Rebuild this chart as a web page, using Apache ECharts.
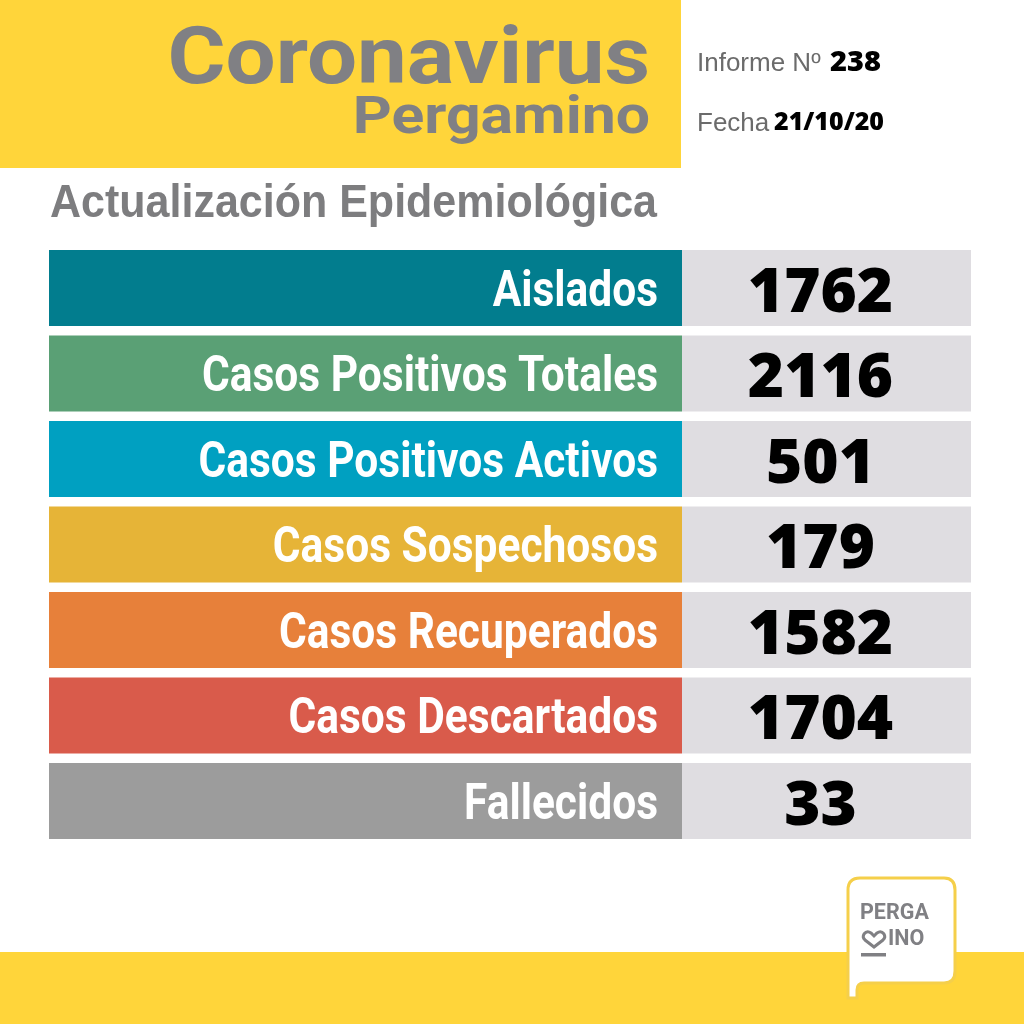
<!DOCTYPE html>
<html>
	<head>
		<meta charset="utf-8" />
		<title>Coronavirus Pergamino</title>
		<script src="https://cdn.jsdelivr.net/npm/echarts@6/dist/echarts.min.js" type="text/javascript" charset="utf-8"></script>
	</head>
	<body style="margin:0;background:#fff;">
		<div id="main" style="width:1024px;height:1024px;"></div>
		<script type="text/javascript">
			var categories = ["Aislados","Casos Positivos Totales","Casos Positivos Activos","Casos Sospechosos","Casos Recuperados","Casos Descartados","Fallecidos"];
			var values = [1762,2116,501,179,1582,1704,33];
			var rowColors = ["#027d8e","#5aa075","#00a0c1","#e6b437","#e7803a","#d95b4b","#9c9c9c"];
			var title = "Coronavirus";
			var subtitle = "Pergamino";
			var heading = "Actualización Epidemiológica";
			var reportNo = "238";
			var reportDate = "21/10/20";

			var YELLOW = "#ffd53a";
			var GREY = "#808084";

			// every row is a full width band, the number is only printed
			var fullRow = categories.map(function(){ return 1; });

			function headText(x, y, text, font, fill, align, scaleX){
				return {
					type: "text", x: x, y: y, scaleX: scaleX || 1,
					style: {text: text, font: font, fill: fill, align: align || "left", verticalAlign: "middle"}
				};
			}

			function logoText(x, y, text){
				return {
					type: "text", x: x, y: y,
					style: {text: text, font: "700 21.5px Roboto", fill: GREY, align: "left", verticalAlign: "middle"}
				};
			}

			var chart = echarts.init(document.getElementById("main"));
			chart.setOption({
				animation: false,
				backgroundColor: "#fff",
				grid: [
					{left: 49, top: 245.25, width: 633, height: 598.5},
					{left: 682, top: 245.25, width: 289, height: 598.5}
				],
				xAxis: [
					{gridIndex: 0, type: "value", min: 0, max: 1, show: false},
					{gridIndex: 1, type: "value", min: 0, max: 1, show: false}
				],
				yAxis: [
					{gridIndex: 0, type: "category", inverse: true, data: categories, show: false},
					{gridIndex: 1, type: "category", inverse: true, data: categories, show: false}
				],
				series: [
					{
						type: "bar", xAxisIndex: 0, yAxisIndex: 0, barWidth: 76, silent: true,
						data: fullRow.map(function(v, i){
							return {value: v, itemStyle: {color: rowColors[i]}};
						})
					},
					{
						type: "bar", xAxisIndex: 1, yAxisIndex: 1, barWidth: 76, silent: true,
						itemStyle: {color: "#dfdde1"},
						label: {
							show: true, position: "inside", offset: [-6, 6],
							fontFamily: "Open Sans", fontWeight: 800, fontSize: 62, color: "#000",
							formatter: function(p){ return String(values[p.dataIndex]); }
						},
						data: fullRow
					},
					{
						// condensed row names, no condensed DIN here so the text gets squeezed
						type: "custom", xAxisIndex: 0, yAxisIndex: 0, silent: true, z: 5,
						data: categories.map(function(c, i){ return [1, i]; }),
						renderItem: function(params, api){
							var p = api.coord([api.value(0), api.value(1)]);
							return {
								type: "text", x: p[0] - 24, y: p[1] + 5, scaleX: 0.85,
								style: {
									text: categories[params.dataIndex],
									font: "700 50px Roboto",
									fill: "#fff", align: "right", verticalAlign: "middle"
								}
							};
						}
					},
					{
						// logo, sits over the bottom band
						type: "custom", coordinateSystem: "none", silent: true, z: 6,
						data: [0],
						renderItem: function(){
							return {
								type: "group",
								children: [
									{
										type: "path",
										shape: {pathData: "M860 878H944Q955 878 955 890V971Q955 983 944 983H864Q857 983 857 990V998H848V890Q848 878 860 878Z"},
										style: {fill: "#fff", stroke: "#f5cf4a", lineWidth: 3}
									},
									logoText(860, 914, "PERGA"),
									logoText(888, 940, "INO"),
									{
										type: "path",
										shape: {pathData: "M874 947L865 940Q862 937 864 934Q867 930 871 933L874 936L877 933Q881 930 884 934Q886 937 883 940Z"},
										style: {fill: "none", stroke: GREY, lineWidth: 3}
									},
									{type: "rect", shape: {x: 861, y: 953, width: 25, height: 3.5}, style: {fill: GREY}}
								]
							};
						}
					}
				],
				graphic: [
					{type: "rect", shape: {x: 0, y: 0, width: 681, height: 168}, style: {fill: YELLOW}},
					{type: "rect", shape: {x: 0, y: 952, width: 1024, height: 72}, style: {fill: YELLOW}},
					headText(650, 63, title, "700 80px Roboto", GREY, "right", 1.11),
					headText(650, 120, subtitle, "700 51px Roboto", GREY, "right", 1.19),
					headText(50, 204, heading, "700 46px 'Liberation Sans'", "#7d7d7f", "left", 0.935),
					headText(697, 64, "Informe Nº", "400 26px 'Liberation Sans'", "#6b6b6b"),
					headText(830, 63, reportNo, "800 29px 'Open Sans'", "#000"),
					headText(697, 124, "Fecha", "400 26px 'Liberation Sans'", "#6b6b6b"),
					headText(774, 123, reportDate, "800 25px 'Open Sans'", "#000")
				]
			});
		</script>
	</body>
</html>
